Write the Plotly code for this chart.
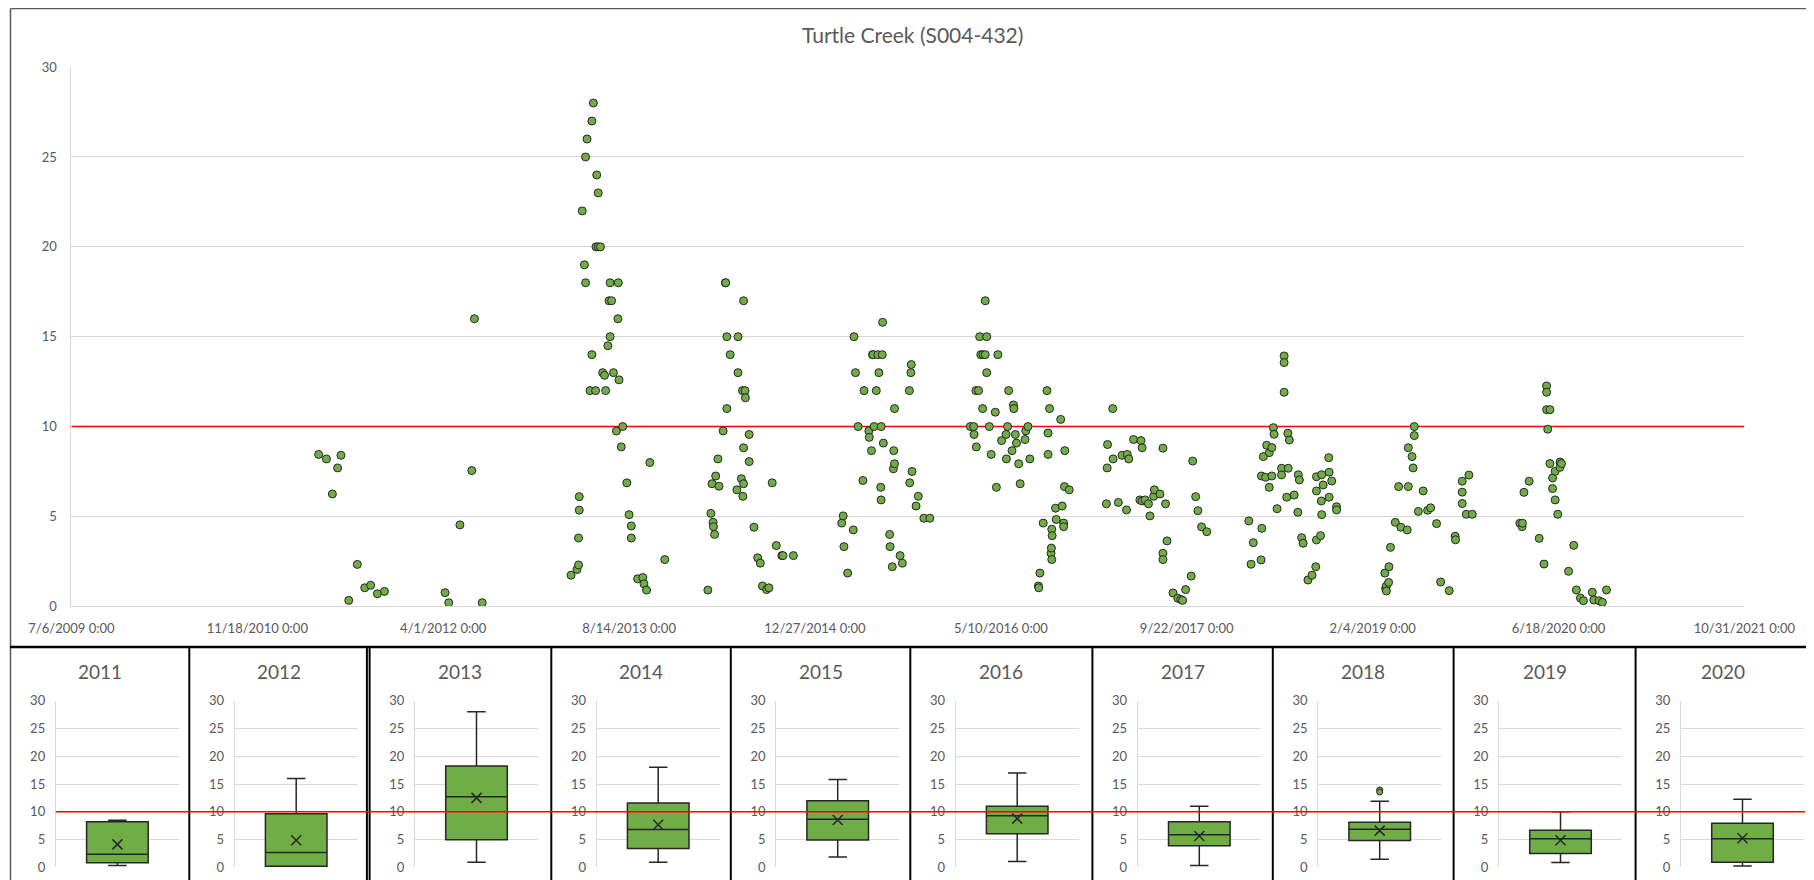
import numpy as np
import pandas as pd
import plotly.graph_objects as go

# ---------------- data ----------------
TITLE = "Turtle Creek (S004-432)"
THRESHOLD = 10
YEARS = [2011, 2012, 2013, 2014, 2015, 2016, 2017, 2018, 2019, 2020]

# sample dates as Excel day serials
day_2011 = [40665, 40686, 40702, 40716, 40725, 40746, 40769, 40789, 40805, 40823, 40842]
val_2011 = [8.45, 8.2, 6.25, 7.7, 8.4, 0.33, 2.33, 1.03, 1.17, 0.7, 0.83]

day_2012 = [41005, 41015, 41045, 41077, 41084, 41105]
val_2012 = [0.76, 0.2, 4.53, 7.55, 16.0, 0.2]

day_2013 = [41344, 41360, 41364, 41364, 41366, 41366, 41374, 41380, 41383, 41383, 41387, 41395,
            41400, 41400, 41404, 41410, 41411, 41413, 41417, 41417, 41423, 41429, 41434, 41437,
            41443, 41446, 41449, 41449, 41453, 41458, 41466, 41470, 41471, 41473, 41479, 41483,
            41494, 41500, 41506, 41506, 41523, 41537, 41540, 41547, 41556, 41596]
val_2013 = [1.73, 2.05, 2.3, 3.8, 5.35, 6.1, 22, 19, 18, 25, 26, 12,
            27, 14, 28, 12, 20, 24, 23, 20, 20, 13, 12.85, 12,
            14.5, 17, 15, 18, 17, 13, 9.75, 16, 18, 12.6, 8.87, 10,
            6.87, 5.1, 4.47, 3.8, 1.53, 1.6, 1.25, 0.9, 8, 2.6]

day_2014 = [41712, 41720, 41723, 41726, 41727, 41730, 41733, 41739, 41742, 41753, 41759, 41760,
            41763, 41763, 41772, 41790, 41793, 41793, 41802, 41805, 41806, 41808, 41808, 41808,
            41812, 41813, 41823, 41823, 41836, 41846, 41853, 41859, 41870, 41876, 41885, 41896,
            41911, 41914, 41942]
val_2014 = [0.9, 5.17, 6.82, 4.67, 4.43, 4.0, 7.25, 8.2, 6.68, 9.76, 18, 18,
            11, 15, 14, 6.48, 15, 13, 7.1, 12, 6.12, 17, 8.82, 6.82,
            12, 11.6, 9.56, 8.05, 4.4, 2.7, 2.4, 1.13, 0.93, 1.03, 6.87, 3.38,
            2.82, 2.82, 2.82]

day_2015 = [42072, 42076, 42078, 42088, 42103, 42105, 42109, 42116, 42129, 42132, 42145, 42146,
            42152, 42155, 42156, 42159, 42165, 42169, 42172, 42177, 42178, 42178, 42181, 42182,
            42184, 42201, 42202, 42208, 42211, 42212, 42214, 42214, 42229, 42235, 42254, 42255,
            42258, 42259, 42261, 42272, 42278, 42293, 42309]
val_2015 = [4.63, 5.03, 3.32, 1.85, 4.25, 15, 13, 10, 7, 12, 9.76, 9.4,
            8.66, 14, 14, 10, 12, 14, 13, 6.62, 10, 5.92, 14, 15.8,
            9.08, 4.0, 3.32, 2.2, 7.65, 8.66, 11, 7.93, 2.82, 2.4, 12, 6.87,
            13, 13.45, 7.5, 5.58, 6.12, 4.9, 4.9]

day_2016 = [42418, 42427, 42428, 42433, 42434, 42440, 42443, 42446, 42451, 42452, 42458, 42458,
            42462, 42462, 42469, 42474, 42485, 42488, 42492, 42502, 42514, 42515, 42518, 42521,
            42530, 42534, 42535, 42539, 42542, 42548, 42552, 42565, 42567, 42573, 42578, 42601,
            42602, 42605, 42614, 42624, 42627, 42627, 42631, 42635, 42636, 42637, 42637, 42638,
            42647, 42649, 42661, 42665, 42669, 42669, 42671, 42672, 42684]
val_2016 = [10, 10, 9.56, 12, 8.87, 12, 15, 14, 11, 14, 14, 17,
            15, 13, 10, 8.45, 10.8, 6.62, 14, 9.22, 9.56, 8.2, 10, 12,
            8.66, 11.2, 11, 9.56, 9.08, 7.93, 6.82, 9.28, 9.76, 10, 8.2, 1.13,
            1.03, 1.85, 4.63, 12, 9.64, 8.45, 11, 2.95, 3.24, 4.29, 2.6, 3.93,
            5.46, 4.83, 10.4, 5.58, 4.63, 4.43, 6.66, 8.66, 6.48]

day_2017 = [42784, 42786, 42787, 42801, 42802, 42816, 42826, 42838, 42840, 42844, 42857, 42874,
            42877, 42880, 42880, 42888, 42897, 42901, 42911, 42913, 42928, 42936, 42936, 42936,
            42943, 42947, 42963, 42976, 42984, 42989, 42997, 43012, 43016, 43024, 43030, 43040,
            43054]
val_2017 = [5.7, 7.7, 9.0, 11, 8.2, 5.78, 8.4, 5.36, 8.45, 8.2, 9.28, 5.92,
            9.22, 8.82, 5.86, 5.92, 5.7, 5.03, 6.12, 6.48, 6.25, 8.8, 2.95, 2.6,
            5.7, 3.64, 0.74, 0.45, 0.38, 0.33, 0.93, 1.68, 8.08, 6.1, 5.32, 4.42,
            4.15]

day_2018 = [43167, 43173, 43179, 43200, 43201, 43202, 43206, 43212, 43215, 43222, 43222, 43229,
            43229, 43233, 43235, 43243, 43255, 43255, 43262, 43262, 43262, 43269, 43272, 43273,
            43276, 43289, 43299, 43300, 43303, 43309, 43313, 43326, 43337, 43347, 43349, 43349,
            43349, 43360, 43362, 43363, 43363, 43367, 43382, 43383, 43383, 43390, 43403, 43403]
val_2018 = [4.75, 2.34, 3.54, 2.58, 7.25, 4.34, 8.33, 7.18, 8.96, 8.55, 6.62, 8.83,
            7.25, 9.94, 9.57, 5.43, 7.68, 7.31, 13.93, 13.56, 11.91, 6.07, 9.63, 7.68,
            9.25, 6.19, 5.23, 7.32, 7.03, 3.82, 3.51, 1.46, 1.73, 2.2, 7.21, 6.42,
            3.69, 3.93, 5.86, 7.32, 5.1, 6.75, 8.27, 7.46, 6.07, 6.97, 5.54, 5.36]

day_2019 = [43533, 43535, 43537, 43537, 43543, 43544, 43548, 43561, 43570, 43576, 43593, 43596,
            43596, 43606, 43609, 43612, 43612, 43623, 43636, 43648, 43656, 43672, 43683, 43706,
            43722, 43723, 43741, 43741, 43741, 43752, 43759, 43768]
val_2019 = [1.85, 1.0, 1.13, 0.85, 1.33, 2.2, 3.28, 4.67, 6.66, 4.4, 4.25, 6.66,
            8.82, 8.33, 7.7, 10, 9.5, 5.28, 6.42, 5.34, 5.48, 4.6, 1.35, 0.87,
            3.9, 3.7, 6.96, 6.35, 5.72, 5.12, 7.3, 5.12]

day_2020 = [43896, 43902, 43903, 43907, 43921, 43948, 43961, 43968, 43968, 43968, 43971, 43977,
            43977, 43984, 43984, 43991, 43991, 43998, 44004, 44004, 44008, 44027, 44041, 44048,
            44059, 44067, 44091, 44095, 44109, 44118, 44129]
val_2020 = [4.62, 4.43, 4.62, 6.34, 6.96, 3.78, 2.35, 12.26, 11.91, 10.94, 9.85, 10.94,
            7.94, 7.14, 6.55, 7.51, 5.92, 5.12, 8.03, 7.73, 7.94, 1.95, 3.39, 0.91,
            0.46, 0.31, 0.78, 0.35, 0.31, 0.22, 0.91]

X_TICK_DAYS = [40000, 40500, 41000, 41500, 42000, 42500, 43000, 43500, 44000, 44500]
X_TICK_LABELS = ["7/6/2009 0:00", "11/18/2010 0:00", "4/1/2012 0:00", "8/14/2013 0:00",
                 "12/27/2014 0:00", "5/10/2016 0:00", "9/22/2017 0:00", "2/4/2019 0:00",
                 "6/18/2020 0:00", "10/31/2021 0:00"]
Y_TICKS = [0, 5, 10, 15, 20, 25, 30]

DAYS = {2011: day_2011, 2012: day_2012, 2013: day_2013, 2014: day_2014, 2015: day_2015,
        2016: day_2016, 2017: day_2017, 2018: day_2018, 2019: day_2019, 2020: day_2020}
VALS = {2011: val_2011, 2012: val_2012, 2013: val_2013, 2014: val_2014, 2015: val_2015,
        2016: val_2016, 2017: val_2017, 2018: val_2018, 2019: val_2019, 2020: val_2020}
for yr in YEARS:
    assert len(DAYS[yr]) == len(VALS[yr]), yr

# ---------------- styling / layout helpers ----------------
W, H = 1814, 880
OFF = 8  # page body margin added by the html page
GREEN = "#70AD47"
EDGE = "#262626"
GRID = "#D9D9D9"
TXT = "#595959"
FONT = "Lato"


def px(x):
    return (x - OFF) / W


def py(y):
    return 1 - (y - OFF) / H


def to_date(days):
    return pd.to_datetime(np.asarray(days, dtype=float), unit="D", origin="1899-12-30")


fig = go.Figure()

x_start = to_date([X_TICK_DAYS[0]])[0]
x_end = to_date([X_TICK_DAYS[-1]])[0]

# threshold on the top chart (drawn first so the samples sit over it)
fig.add_trace(go.Scatter(
    x=[x_start, x_end], y=[THRESHOLD, THRESHOLD], mode="lines",
    line=dict(color="#FF0000", width=1.5), xaxis="x", yaxis="y",
    showlegend=False, hoverinfo="skip"))

# ---------------- top scatter ----------------
all_days = sum((DAYS[y] for y in YEARS), [])
all_vals = sum((VALS[y] for y in YEARS), [])
fig.add_trace(go.Scatter(
    x=to_date(all_days), y=all_vals, mode="markers",
    marker=dict(size=8, color=GREEN, line=dict(color=EDGE, width=1)),
    xaxis="x", yaxis="y", showlegend=False, hoverinfo="x+y"))

layout = dict(
    width=W, height=H, margin=dict(l=0, r=0, t=0, b=0, autoexpand=False),
    paper_bgcolor="white", plot_bgcolor="white", showlegend=False,
    font=dict(family=FONT, color=TXT, size=12),
    xaxis=dict(domain=[px(71.4), px(1744.4)], anchor="y", type="date", automargin=False,
               range=[x_start, x_end],
               tickmode="array", tickvals=list(to_date(X_TICK_DAYS)), ticktext=X_TICK_LABELS,
               tickangle=0, showgrid=False, zeroline=False, showline=True,
               linecolor=GRID, linewidth=1, ticks="outside", ticklen=10,
               tickcolor="rgba(0,0,0,0)", tickfont=dict(size=13, color=TXT)),
    yaxis=dict(domain=[py(606.3), py(67.1)], anchor="x", range=[0, 30], automargin=False,
               tickmode="array", tickvals=Y_TICKS, showgrid=True, gridcolor=GRID,
               gridwidth=1, zeroline=False, showline=True, linecolor=GRID,
               ticks="outside", ticklen=11, tickcolor="rgba(0,0,0,0)",
               tickfont=dict(size=13, color=TXT)),
)

shapes = []
annotations = [dict(text=TITLE, x=px(912), y=py(35), xref="paper", yref="paper",
                    showarrow=False, xanchor="center", yanchor="middle",
                    font=dict(family=FONT, size=21, color=TXT))]

# ---------------- bottom yearly box plots ----------------
panel_left = [10.5, 189.3, 369.6, 551.3, 730.8, 910.3, 1092.4, 1272.8, 1453.6, 1635.6]
panel_right = panel_left[1:] + [1811.0]

for i, yr in enumerate(YEARS):
    k = i + 2
    vals = np.asarray(VALS[yr], dtype=float)
    q1, med, q3 = np.percentile(vals, [25, 50, 75], method="weibull")
    iqr = q3 - q1
    inside = vals[(vals >= q1 - 1.5 * iqr) & (vals <= q3 + 1.5 * iqr)]
    lo, hi = inside.min(), inside.max()
    outl = vals[(vals < q1 - 1.5 * iqr) | (vals > q3 + 1.5 * iqr)]
    fig.add_trace(go.Box(
        x=[0], q1=[q1], median=[med], q3=[q3], lowerfence=[lo], upperfence=[hi],
        width=0.5, whiskerwidth=0.3, fillcolor=GREEN,
        line=dict(color=EDGE, width=1.5), boxpoints=False,
        xaxis=f"x{k}", yaxis=f"y{k}", showlegend=False, name=str(yr)))
    if len(outl):
        fig.add_trace(go.Scatter(
            x=[0] * len(outl), y=outl, mode="markers",
            marker=dict(size=6, color=GREEN, line=dict(color=EDGE, width=1)),
            xaxis=f"x{k}", yaxis=f"y{k}", showlegend=False))
    fig.add_trace(go.Scatter(
        x=[0], y=[vals.mean()], mode="markers",
        marker=dict(symbol="x-thin", size=10, color=EDGE, line=dict(color=EDGE, width=1.5)),
        xaxis=f"x{k}", yaxis=f"y{k}", showlegend=False))

    L = panel_left[i]
    layout[f"xaxis{k}"] = dict(domain=[px(L + 45.3), px(L + 168.5)], anchor=f"y{k}",
                               range=[-0.5, 0.5], showticklabels=False, showgrid=False,
                               zeroline=False, showline=False, ticks="", automargin=False)
    layout[f"yaxis{k}"] = dict(domain=[py(867.3), py(700.7)], anchor=f"x{k}", range=[0, 30],
                               tickmode="array", tickvals=Y_TICKS, showgrid=True,
                               gridcolor=GRID, zeroline=False, showline=True, linecolor=GRID,
                               ticks="outside", ticklen=7, tickcolor="rgba(0,0,0,0)",
                               tickfont=dict(size=13, color=TXT), automargin=False)
    annotations.append(dict(text=str(yr), x=px((L + panel_right[i]) / 2), y=py(671.7),
                            xref="paper", yref="paper", showarrow=False,
                            xanchor="center", yanchor="middle",
                            font=dict(family=FONT, size=19, color=TXT)))

# frame and panel separators
frame = "#595959"
shapes += [
    dict(type="line", xref="paper", yref="paper", x0=px(10.5), x1=px(1811), y0=py(8.5), y1=py(8.5),
         line=dict(color=frame, width=1.5)),
    dict(type="line", xref="paper", yref="paper", x0=px(10.5), x1=px(10.5), y0=py(8.5), y1=py(880),
         line=dict(color=frame, width=1.5)),
    dict(type="line", xref="paper", yref="paper", x0=px(1811), x1=px(1811), y0=py(8.5), y1=py(647),
         line=dict(color=frame, width=1.5)),
    dict(type="line", xref="paper", yref="paper", x0=px(10), x1=px(1814), y0=py(647), y1=py(647),
         line=dict(color="black", width=2.5)),
]
for xs in panel_left[1:] + [366.9, 1811.5]:
    shapes.append(dict(type="line", xref="paper", yref="paper", x0=px(xs), x1=px(xs),
                       y0=py(647), y1=py(880), line=dict(color="black", width=2)))

# threshold across the yearly panels
shapes.append(dict(type="line", xref="paper", yref="y2", x0=px(55.8), x1=px(1805),
                   y0=THRESHOLD, y1=THRESHOLD, line=dict(color="#FF0000", width=1.5)))

layout["shapes"] = shapes
layout["annotations"] = annotations
fig.update_layout(**layout)

fig.write_html("out.html")
